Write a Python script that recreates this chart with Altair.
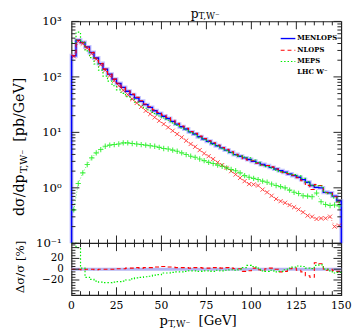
import altair as alt
import pandas as pd

# ---------------- data ----------------
BIN_WIDTH = 2.5
N_BINS = 60
X_MAX = 150
Y_FLOOR = 0.1
bin_lo = [BIN_WIDTH * i for i in range(N_BINS)]
bin_mid = [b + BIN_WIDTH / 2 for b in bin_lo]

# MENLOPS histogram, dsigma/dpT [pb/GeV]
menlops = [240, 457, 417, 347, 275, 219, 174, 138, 112, 91.2,
           75.9, 64.6, 55.0, 47.9, 41.7, 36.3, 31.6, 28.2, 24.5, 21.9,
           19.5, 17.8, 15.8, 14.1, 12.6, 11.5, 10.2, 9.33, 8.32, 7.59,
           6.92, 6.31, 5.75, 5.25, 4.79, 4.37, 3.98, 3.72, 3.47, 3.24,
           3.02, 2.82, 2.63, 2.51, 2.34, 2.19, 2.04, 1.91, 1.78, 1.66,
           1.55, 1.41, 1.26, 1.10, 1.02, 1.00, 0.83, 0.81, 0.71, 0.58]

# lower panel: deviation from MENLOPS [%]
nlops_ratio = [0, 0, -1, 0, 0, -1, 0, 0, 0, 0,
               1, 1, 2, 2, 3, 2, 3, 3, 4, 4,
               5, 4, 4, 3, 3, 3, 2, 3, 3, 2,
               2, 3, 3, 2, 3, 2, 1, 1, -4, -3,
               2, -1, -2, 1, 2, 0, -5, -4, 1, 2,
               -2, -5, -12, -15, 12, 10, -2, 0, -3, -4]
meps_ratio = [70, 40, 2, -15, -19, -22, -24, -25, -25, -24,
              -23, -22, -20, -18, -16, -15, -14, -13, -11, -10,
              -7, -7, -6, -5, -5, -4, -3, -3, -4, -3,
              -3, -4, -2, -3, -2, -1, -2, 0, 3, 7,
              5, 2, -3, -4, -2, -5, -4, -1, 2, 4,
              6, 5, 2, 1, 7, 8, 0, -3, -7, -6]

# NLOPS and MEPS histograms follow from MENLOPS and the lower-panel deviations
nlops = [m * (1 + r / 100) for m, r in zip(menlops, nlops_ratio)]
meps = [m * (1 + r / 100) for m, r in zip(menlops, meps_ratio)]

# red 'x' markers series
nlops_marked = [235, 437, 398, 331, 263, 209, 166, 132, 105, 85.1,
                69.2, 57.5, 47.9, 39.8, 33.9, 28.8, 24.5, 21.4, 18.6, 16.2,
                14.1, 12.3, 10.7, 9.33, 8.13, 7.08, 6.17, 5.50, 4.79, 4.17,
                3.72, 3.31, 2.88, 2.57, 2.29, 2.00, 1.74, 1.51, 1.32, 1.17,
                1.15, 1.10, 0.93, 0.83, 0.72, 0.63, 0.575, 0.537, 0.49, 0.447,
                0.407, 0.363, 0.316, 0.302, 0.275, 0.282, 0.282, 0.302, 0.20, 0.209]
# green '+' markers series
meps_marked = [0.40, 1.20, 1.86, 2.63, 3.47, 4.27, 4.90, 5.62, 5.89, 6.03,
               6.17, 6.46, 6.46, 6.31, 6.17, 6.03, 5.89, 5.75, 5.62, 5.37,
               5.13, 5.01, 4.79, 4.57, 4.27, 3.98, 3.72, 3.55, 3.31, 3.09,
               2.88, 2.75, 2.57, 2.45, 2.29, 2.14, 2.04, 1.86, 1.66, 1.55,
               1.48, 1.41, 1.32, 1.26, 1.17, 1.10, 1.05, 1.00, 0.91, 0.83,
               0.79, 0.72, 0.71, 0.69, 0.81, 0.56, 0.50, 0.48, 0.49, 0.47]

series_names = ["MENLOPS", "NLOPS", "MEPS"]
process_label = "LHC W\u207b"

x_major = [25, 50, 75, 100, 125]
x_minor = [v for v in range(5, 150, 5) if v % 25 != 0]
x_labels_val = [0, 25, 50, 75, 100, 125, 150]
x_labels_txt = ["0", "25", "50", "75", "100", "125", "150"]
y_major = [0.1, 1, 10, 100, 1000]
y_minor = [m * d for d in [0.1, 1, 10, 100] for m in range(2, 10)]
y_labels_txt = ["10\u207b\u00b9", "10\u2070", "10\u00b9", "10\u00b2", "10\u00b3"]
r_major = [-40, -20, 0, 20, 40]
r_minor = [v for v in range(-45, 50, 5) if v % 20 != 0]
r_labels_val = [20, 0, -20]
r_labels_txt = ["20", "0", "\u221220"]

title_main = ["p", "T,W\u207b"]
x_title = ["p", "T,W\u207b", "[GeV]"]
y_title = ["d\u03c3/dp", "T,W\u207b", "[pb/GeV]"]
r_title = "\u0394\u03c3/\u03c3 [%]"

# ---------------- layout / style ----------------
W, HM, HR = 276, 227, 53
H = HM + HR
FONT = "DejaVu Serif"
INK = "#222222"
BLUE, RED, GREEN = "#0000ff", "#ff0000", "#00ee00"
HALO = "#9c9cff"

x_sc = alt.Scale(domain=[0, X_MAX], range=[0, W], nice=False, zero=False)
ym_sc = alt.Scale(type="log", domain=[Y_FLOOR, 1000], range=[HM, 0], nice=False)
yr_sc = alt.Scale(domain=[-48, 48], range=[H, HM], clamp=True, nice=False, zero=False)


def X(f):
    return alt.X(f, type="quantitative", scale=x_sc, axis=None)


def YM(f):
    return alt.Y(f, type="quantitative", scale=ym_sc, axis=None)


def YR(f):
    return alt.Y(f, type="quantitative", scale=yr_sc, axis=None)


def steps(values, close=False):
    xs = bin_lo + [X_MAX]
    vs = list(values) + [values[-1]]
    if close:
        xs = [0] + xs + [X_MAX]
        vs = [Y_FLOOR] + vs + [Y_FLOOR]
    return pd.DataFrame({"x": xs, "v": vs, "o": list(range(len(xs)))})


one = pd.DataFrame({"d": [0]})
layers = []

# ratio band for MENLOPS
layers.append(alt.Chart(pd.DataFrame({"r": [0]})).mark_rule(color="#b4b4f2", strokeWidth=3)
              .encode(y=YR("r"), x=alt.value(0), x2=alt.value(W)))

# main histograms
layers.append(alt.Chart(steps(menlops, True)).mark_line(interpolate="step-after", color=HALO,
              strokeWidth=4, opacity=0.6).encode(x=X("x"), y=YM("v"), order="o:Q"))
layers.append(alt.Chart(steps(menlops, True)).mark_line(interpolate="step-after", color=BLUE,
              strokeWidth=1.4).encode(x=X("x"), y=YM("v"), order="o:Q"))
layers.append(alt.Chart(steps(nlops)).mark_line(interpolate="step-after", color=RED,
              strokeWidth=1.1, strokeDash=[4, 3]).encode(x=X("x"), y=YM("v"), order="o:Q"))
layers.append(alt.Chart(steps(meps)).mark_line(interpolate="step-after", color=GREEN,
              strokeWidth=1.2, strokeDash=[1.5, 2]).encode(x=X("x"), y=YM("v"), order="o:Q"))

# marker series
df_rx = pd.DataFrame({"x": bin_mid, "v": nlops_marked})
df_gp = pd.DataFrame({"x": bin_mid, "v": meps_marked})
layers.append(alt.Chart(df_rx).mark_line(color=RED, strokeWidth=0.8, strokeDash=[1, 2], opacity=0.7)
              .encode(x=X("x"), y=YM("v")))
layers.append(alt.Chart(df_rx).mark_point(shape="M-1,-1L1,1M-1,1L1,-1", filled=False, size=18,
              strokeWidth=1, color=RED, opacity=0.7).encode(x=X("x"), y=YM("v")))
layers.append(alt.Chart(df_gp).mark_line(color=GREEN, strokeWidth=0.8, strokeDash=[1, 2], opacity=0.8)
              .encode(x=X("x"), y=YM("v")))
layers.append(alt.Chart(df_gp).mark_point(shape="M-1,0L1,0M0,-1L0,1", filled=False, size=30,
              strokeWidth=1.1, color=GREEN).encode(x=X("x"), y=YM("v")))

# ratio histograms
layers.append(alt.Chart(steps(nlops_ratio)).mark_line(interpolate="step-after", color=RED,
              strokeWidth=1.1, strokeDash=[4, 3]).encode(x=X("x"), y=YR("v"), order="o:Q"))
layers.append(alt.Chart(steps(meps_ratio)).mark_line(interpolate="step-after", color=GREEN,
              strokeWidth=1.2, strokeDash=[1.5, 2]).encode(x=X("x"), y=YR("v"), order="o:Q"))

# divider between panels
layers.append(alt.Chart(one).mark_rule(color=INK, strokeWidth=1.2)
              .encode(x=alt.value(0), x2=alt.value(W), y=alt.value(HM)))

# inward ticks, x
for vals, ln in [(x_major, 8), (x_minor, 4)]:
    d = pd.DataFrame({"t": vals})
    for y0, y1 in [(0, ln), (HM, HM - ln), (HM, HM + ln), (H, H - ln)]:
        layers.append(alt.Chart(d).mark_rule(color=INK, strokeWidth=1)
                      .encode(x=X("t"), y=alt.value(y0), y2=alt.value(y1)))
# inward ticks, main y
for vals, ln in [(y_major, 8), (y_minor, 4)]:
    d = pd.DataFrame({"t": vals})
    for x0, x1 in [(0, ln), (W, W - ln)]:
        layers.append(alt.Chart(d).mark_rule(color=INK, strokeWidth=1)
                      .encode(y=YM("t"), x=alt.value(x0), x2=alt.value(x1)))
# inward ticks, ratio y
for vals, ln in [(r_major, 8), (r_minor, 4)]:
    d = pd.DataFrame({"t": vals})
    for x0, x1 in [(0, ln), (W, W - ln)]:
        layers.append(alt.Chart(d).mark_rule(color=INK, strokeWidth=1)
                      .encode(y=YR("t"), x=alt.value(x0), x2=alt.value(x1)))

# tick labels
layers.append(alt.Chart(pd.DataFrame({"t": x_labels_val, "s": x_labels_txt}))
              .mark_text(font=FONT, fontSize=11, color="black", baseline="middle")
              .encode(x=X("t"), y=alt.value(H + 11.5), text="s:N"))
layers.append(alt.Chart(pd.DataFrame({"t": y_major, "s": y_labels_txt}))
              .mark_text(font=FONT, fontSize=12, color="black", baseline="middle", align="right")
              .encode(y=YM("t"), x=alt.value(-10), text="s:N"))
layers.append(alt.Chart(pd.DataFrame({"t": r_labels_val, "s": r_labels_txt}))
              .mark_text(font=FONT, fontSize=10.5, color="black", baseline="middle", align="right")
              .encode(y=YR("t"), x=alt.value(-8), text="s:N"))


def txt(s, x, y, size, angle=0, align="left", baseline="alphabetic", bold=False):
    return (alt.Chart(one)
            .mark_text(text=s, font=FONT, fontSize=size, color="black", angle=angle, align=align,
                       baseline=baseline, fontWeight="bold" if bold else "normal")
            .encode(x=alt.value(x), y=alt.value(y)))


# titles
layers.append(txt(title_main[0], 122, -4, 12.5))
layers.append(txt(title_main[1], 130, -2, 9))
layers.append(txt(x_title[0], 90, 310.5, 13.5))
layers.append(txt(x_title[1], 99, 313, 9.5))
layers.append(txt(x_title[2], 130, 310.5, 13.5))
layers.append(txt(y_title[0], -49, 199, 14.5, angle=270))
layers.append(txt(y_title[1], -45.5, 155, 10, angle=270))
layers.append(txt(y_title[2], -49, 123, 14.5, angle=270))
layers.append(txt(r_title, -49, 278, 12, angle=270))

# legend
leg_y = [17.5, 29.5, 41]
leg_style = [dict(color=BLUE, strokeWidth=1.4),
             dict(color=RED, strokeWidth=1.1, strokeDash=[4, 3]),
             dict(color=GREEN, strokeWidth=1.2, strokeDash=[1.5, 2])]
for name, yy, st in zip(series_names, leg_y, leg_style):
    layers.append(alt.Chart(one).mark_rule(**st)
                  .encode(x=alt.value(214), x2=alt.value(229), y=alt.value(yy)))
    layers.append(txt(name, 231, yy, 7, baseline="middle", bold=True))
layers.append(txt(process_label, 231, 52, 7, baseline="middle", bold=True))

chart = (alt.layer(*layers)
         .resolve_scale(y="independent")
         .properties(width=W, height=H,
                     autosize=alt.AutoSizeParams(type="none"),
                     padding={"left": 65, "top": 10, "right": 13, "bottom": 34})
         .configure_view(stroke=INK, strokeWidth=1.2))

chart.save("out.html", embed_options={"renderer": "svg", "actions": False})
